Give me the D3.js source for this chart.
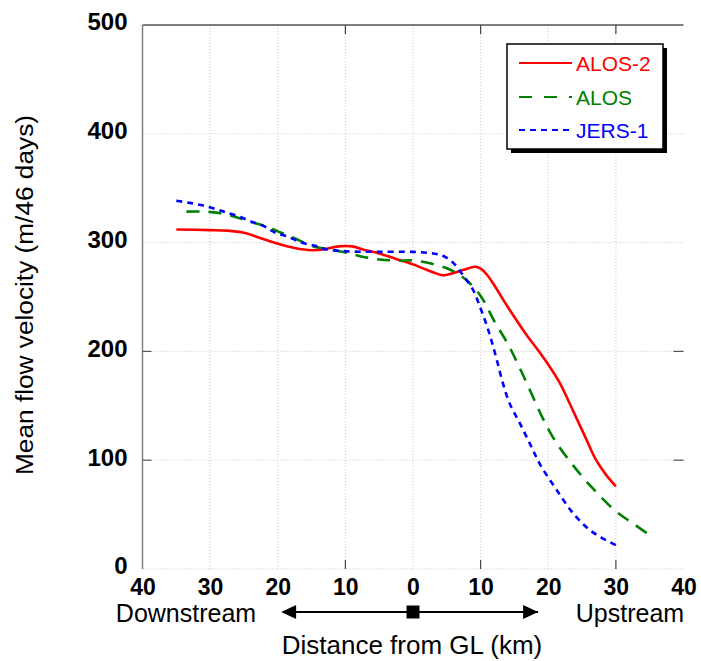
<!DOCTYPE html>
<html>
<head>
<meta charset="utf-8">
<script src="https://cdn.jsdelivr.net/npm/d3@7"></script>
<style>
  body { margin: 0; background: #fff; }
  svg { display: block; font-family: Arial, "Liberation Sans", sans-serif; }
</style>
</head>
<body>
<svg id="chart"></svg>
<script>
// distance from grounding line (km), negative = downstream
const alos2Dist = [-35, -30, -27.5, -25, -22.5, -20, -17.5, -15, -13, -11, -9, -7, -5, -2.5, 0, 2, 4.5, 6, 7.5, 9.2, 10, 11, 12, 14, 16.8, 18.5, 20.2, 21.7, 23.7, 25.5, 27, 28.5, 30];
const alos2Vel = [312, 311.5, 311, 309, 304, 299, 295, 293, 294, 296.5, 296.5, 293, 290, 285, 280, 275, 270, 272, 275, 277.8, 276, 270, 261, 241, 215, 201, 186, 171, 145, 121, 101, 87, 76];

const alosDist = [-33.5, -31, -28.5, -26, -24, -21.5, -19.5, -17.5, -15, -12.5, -10, -7.5, -5, -2.5, 0, 2.5, 5, 6.5, 8, 10, 12.1, 14.1, 15.8, 17.5, 19.2, 20.9, 23.7, 26.6, 30, 32.5, 35];
const alosVel = [328.5, 328.5, 327, 323, 319, 314.5, 309, 304, 297, 294, 291, 287, 284.5, 283.5, 283.5, 281, 276.5, 272, 265, 251, 227, 206, 184.5, 161.5, 138.5, 119, 95, 74, 53, 42, 31];

const jersDist = [-35, -33, -31, -29, -27.5, -25.5, -24, -22, -20.5, -18.5, -16.5, -14.5, -13, -11, -9, -5, 0, 3, 4.5, 6, 7.4, 8.9, 9.9, 10.9, 11.6, 12.4, 13.3, 14.3, 15.8, 17.5, 18.8, 21.2, 23.7, 26.1, 28.1, 30];
const jersVel = [338.5, 336.5, 334, 330.5, 327.5, 323.5, 319.5, 315, 309.5, 305.5, 300, 297, 294, 292.5, 291.8, 291.5, 291.5, 290, 287.7, 281, 270, 256.4, 241, 224, 210, 192, 170.6, 152, 134, 112.4, 96, 73, 51, 36, 28, 22];

const seriesNames = ["ALOS-2", "ALOS", "JERS-1"];
const seriesColors = ["#ff0000", "#008000", "#0000ff"];
const xTicks = [-40, -30, -20, -10, 0, 10, 20, 30, 40];
const yTicks = [0, 100, 200, 300, 400, 500];

const WIDTH = 701, HEIGHT = 661;
const svg = d3.select("#chart").attr("width", WIDTH).attr("height", HEIGHT);

const x = d3.scaleLinear().domain([-40, 40]).range([142.5, 683.5]);
const y = d3.scaleLinear().domain([0, 500]).range([569, 25]);

// dotted grid
svg.append("g")
  .selectAll("line")
  .data(xTicks.slice(1, -1))
  .enter().append("line")
  .attr("x1", d => x(d)).attr("x2", d => x(d))
  .attr("y1", y(500)).attr("y2", y(0))
  .attr("stroke", "#c8c8c8").attr("stroke-dasharray", "1,2");
svg.append("g")
  .selectAll("line")
  .data(yTicks.slice(0, -1))
  .enter().append("line")
  .attr("x1", x(-40)).attr("x2", x(40))
  .attr("y1", d => y(d)).attr("y2", d => y(d))
  .attr("stroke", "#c8c8c8").attr("stroke-dasharray", "1,2");

// frame: top black, left gray
svg.append("line").attr("x1", x(-40)).attr("x2", x(40)).attr("y1", y(500)).attr("y2", y(500))
  .attr("stroke", "#000").attr("stroke-width", 1.2);
svg.append("line").attr("x1", x(-40)).attr("x2", x(-40)).attr("y1", y(500)).attr("y2", y(0))
  .attr("stroke", "#808080").attr("stroke-width", 1.5);

// inside tick marks
[-10, 10, 30].forEach(t => {
  svg.append("line").attr("x1", x(t)).attr("x2", x(t)).attr("y1", y(0)).attr("y2", y(0) - 9)
    .attr("stroke", "#444").attr("stroke-width", 1.2);
  svg.append("line").attr("x1", x(t)).attr("x2", x(t)).attr("y1", y(500)).attr("y2", y(500) + 9)
    .attr("stroke", "#444").attr("stroke-width", 1.2);
});
[100, 200].forEach(t => {
  svg.append("line").attr("x1", x(-40)).attr("x2", x(-40) + 9).attr("y1", y(t)).attr("y2", y(t))
    .attr("stroke", "#555").attr("stroke-width", 1.2);
  svg.append("line").attr("x1", x(40) - 10).attr("x2", x(40)).attr("y1", y(t)).attr("y2", y(t))
    .attr("stroke", "#555").attr("stroke-width", 1.2);
});

// axes (labels only)
const xAxis = svg.append("g")
  .attr("transform", "translate(0," + y(0) + ")")
  .call(d3.axisBottom(x).tickValues(xTicks).tickSize(0).tickPadding(10).tickFormat(d => Math.abs(d)));
xAxis.select(".domain").remove();
xAxis.selectAll("text").attr("font-size", 23).attr("font-weight", "bold").attr("fill", "#000")
  .attr("font-family", "Arial, 'Liberation Sans', sans-serif");

const yAxis = svg.append("g")
  .attr("transform", "translate(" + x(-40) + ",0)")
  .call(d3.axisLeft(y).tickValues(yTicks).tickSize(0).tickPadding(15));
yAxis.select(".domain").remove();
yAxis.selectAll("text").attr("font-size", 24).attr("font-weight", "bold").attr("fill", "#000")
  .attr("dy", "0.2em")
  .attr("font-family", "Arial, 'Liberation Sans', sans-serif");

// series
const series = [
  { dist: alos2Dist, vel: alos2Vel, dash: null },
  { dist: alosDist, vel: alosVel, dash: "13,9" },
  { dist: jersDist, vel: jersVel, dash: "6,5" }
];
const line = d3.line().x(d => x(d[0])).y(d => y(d[1])).curve(d3.curveCatmullRom.alpha(0.5));
series.forEach((s, i) => {
  svg.append("path")
    .datum(d3.zip(s.dist, s.vel))
    .attr("d", line)
    .attr("fill", "none")
    .attr("stroke", seriesColors[i])
    .attr("stroke-width", 2.6)
    .attr("stroke-dasharray", s.dash);
});

// legend
const lg = svg.append("g");
lg.append("rect").attr("x", 511).attr("y", 48).attr("width", 156).attr("height", 105).attr("fill", "#000");
lg.append("rect").attr("x", 507).attr("y", 44).attr("width", 156).attr("height", 105)
  .attr("fill", "#fff").attr("stroke", "#000").attr("stroke-width", 1.5);
const legendY = [63, 97, 130];
const legendDash = [null, "13,12", "6,5"];
seriesNames.forEach((name, i) => {
  lg.append("line").attr("x1", 519).attr("x2", 572).attr("y1", legendY[i]).attr("y2", legendY[i])
    .attr("stroke", seriesColors[i]).attr("stroke-width", 2)
    .attr("stroke-dasharray", legendDash[i]);
  lg.append("text").attr("x", 576).attr("y", legendY[i] + 7.5).attr("font-size", 21)
    .attr("fill", seriesColors[i]).text(name);
});

// axis titles
svg.append("text")
  .attr("transform", "translate(33,295) rotate(-90)")
  .attr("text-anchor", "middle").attr("font-size", 23)
  .attr("textLength", 360).attr("lengthAdjust", "spacingAndGlyphs")
  .text("Mean flow velocity (m/46 days)");

svg.append("text").attr("x", 186).attr("y", 622).attr("text-anchor", "middle")
  .attr("font-size", 25).text("Downstream");
svg.append("text").attr("x", 630).attr("y", 622).attr("text-anchor", "middle")
  .attr("font-size", 25).text("Upstream");
svg.append("text").attr("x", 412).attr("y", 654).attr("text-anchor", "middle")
  .attr("font-size", 26).text("Distance from GL (km)");

// GL arrow
const arrowY = 612;
svg.append("line").attr("x1", x(-19)).attr("x2", x(18.5)).attr("y1", arrowY).attr("y2", arrowY)
  .attr("stroke", "#000").attr("stroke-width", 2);
svg.append("path")
  .attr("d", `M${x(-19.5)},${arrowY} l15,-7 l0,14 Z`).attr("fill", "#000");
svg.append("path")
  .attr("d", `M${x(18.5)},${arrowY} l-15,-7 l0,14 Z`).attr("fill", "#000");
svg.append("rect").attr("x", x(0) - 6.5).attr("y", arrowY - 6.5).attr("width", 13).attr("height", 13).attr("fill", "#000");
</script>
</body>
</html>
